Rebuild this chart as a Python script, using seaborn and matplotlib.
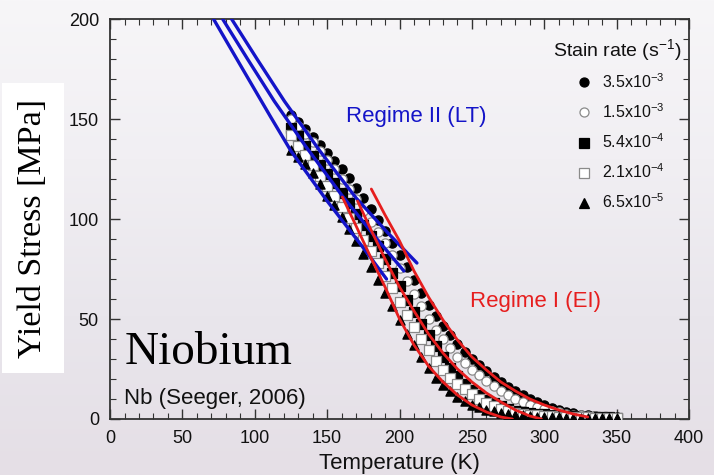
import matplotlib
matplotlib.use("Agg")
import numpy as np
import pandas as pd
import matplotlib.pyplot as plt
import seaborn as sns
from matplotlib.lines import Line2D
from matplotlib.colors import LinearSegmentedColormap
from matplotlib.ticker import MultipleLocator

# Test temperatures (K)
temperature = [125, 130, 135, 140, 145, 150, 155, 160, 165, 170,
               175, 180, 185, 190, 195, 200, 205, 210, 215, 220,
               225, 230, 235, 240, 245, 250, 255, 260, 265, 270,
               275, 280, 285, 290, 295, 300, 305, 310, 315, 320,
               325, 330, 335, 340, 345, 350]

# Yield stress (MPa) for each strain rate
stress_3p5e3 = [152, 148.5, 145, 141, 137, 133, 129, 125, 120.5, 115.5,
                110.5, 105, 99.5, 94, 88, 82, 76, 69.5, 63, 57,
                51.5, 46.5, 42, 37.5, 33.5, 30, 27, 24, 21, 18.5,
                16, 13.8, 11.8, 10, 8.3, 7, 5.7, 4.6, 3.6, 2.8,
                2.2, 1.8, 1.5, 1.2, 1.0, 0.8]
stress_1p5e3 = [150, 146.5, 142.5, 138.5, 134, 129.5, 125, 120, 115, 110,
                104, 98.5, 93.5, 88, 82, 75.5, 69, 62.5, 56.5, 50,
                44.5, 40, 35.5, 31, 28, 24.5, 21.8, 19.2, 16.5, 14,
                11.8, 10, 8.4, 7, 6, 5, 4.1, 3.3, 2.7, 2.2,
                1.8, 1.5, 1.3, 1.1, 0.9, 0.7]
stress_5p4e4 = [145.5, 141.5, 136.5, 131.5, 127, 122.5, 118, 113, 108, 102.5,
                97, 91.5, 86.5, 80, 73, 66.5, 59.5, 53.5, 47.5, 42,
                36.5, 31, 25.5, 21.5, 17.5, 14.5, 11.8, 9.7, 8, 6.4,
                5.2, 4.2, 3.5, 3.0, 2.6, 2.3, 2.0, 1.8, 1.6, 1.4,
                1.2, 1.1, 1.0, 0.9, 0.8, 0.7]
stress_2p1e4 = [142, 136.5, 132, 127, 121.5, 116.5, 111.5, 106, 100.5, 95.5,
                89.5, 84, 78, 71.5, 65.5, 58.5, 52, 46, 40, 34.5,
                29, 24.5, 20.5, 17.5, 14.8, 12.3, 10, 8, 6.5, 5,
                3.8, 3.0, 2.5, 2.1, 1.8, 1.6, 1.4, 1.2, 1.1, 1.0,
                0.9, 0.8, 0.7, 0.6, 0.5, 0.5]
stress_6p5e5 = [134.5, 131, 127.5, 123, 117.5, 111.5, 107, 101, 95, 89,
                82.5, 76, 69.5, 63, 56.5, 49.5, 42.5, 37, 31, 25.5,
                20.5, 17, 14, 11.2, 9, 7, 5.8, 4.6, 3.8, 3.2,
                2.7, 2.2, 1.8, 1.5, 1.2, 1.0, 0.9, 0.8, 0.7, 0.6,
                0.5, 0.5, 0.4, 0.4, 0.3, 0.3]

rate_labels = ["3.5x10$^{-3}$", "1.5x10$^{-3}$", "5.4x10$^{-4}$",
               "2.1x10$^{-4}$", "6.5x10$^{-5}$"]

# Regime II (low temperature) model curves
regime2_T = [[71.5, 90, 111, 125, 150, 174, 191],
             [77.8, 95, 113.4, 135, 160, 185, 203],
             [84, 102, 120.4, 145, 170, 192, 212]]
regime2_S = [[200, 177, 151, 134, 109, 86.5, 70],
             [200, 180, 159, 136.5, 112, 89.5, 74],
             [200, 179.5, 159, 134, 110.5, 93, 78]]

# Regime I (elastic interaction) model curves
regime1_T = [[160.5, 170, 180, 190, 200, 210, 220, 230, 240, 250, 260, 270, 278],
             [171, 180, 190, 200, 210, 220, 230, 240, 250, 260, 270, 280, 290, 298],
             [180.5, 190, 200, 210, 220, 230, 240, 250, 260, 270, 280, 290, 300, 310, 320, 330]]
regime1_S = [[111, 96.5, 81, 66, 50, 37, 26.5, 18.5, 12, 7, 3.5, 1, 0],
             [109, 95, 80, 66, 54, 42.5, 33, 25, 18.5, 13, 8.5, 4.5, 1.5, 0],
             [115, 102, 89, 74, 61, 49.5, 39.5, 31, 24.5, 18.5, 14, 10, 7, 4.5, 2.5, 1]]

series = [stress_3p5e3, stress_1p5e3, stress_5p4e4, stress_2p1e4, stress_6p5e5]
markers = ["o", "o", "s", "s", "^"]
faces = ["black", "white", "black", "white", "black"]
edges = ["black", "#8a8a8a", "black", "#8a8a8a", "black"]

sns.set_theme(style="ticks")
plt.rcParams.update({
    "font.family": ["Liberation Sans", "DejaVu Sans"],
    "mathtext.fontset": "custom",
    "mathtext.rm": "Liberation Sans",
    "mathtext.it": "Liberation Sans:italic",
    "mathtext.bf": "Liberation Sans:bold",
})

fig = plt.figure(figsize=(7.14, 4.75), dpi=100)

# soft lavender backdrop
bg = fig.add_axes([0, 0, 1, 1], zorder=-10)
grad = np.linspace(0, 1, 256).reshape(-1, 1)
cmap = LinearSegmentedColormap.from_list(
    "backdrop", ["#f7f6f8", "#f1eff3", "#e9e6ec", "#e5dfe6"])
bg.imshow(grad, aspect="auto", cmap=cmap, extent=[0, 1, 0, 1], origin="upper")
bg.set_axis_off()

ax = fig.add_axes([0.1541, 0.1179, 0.811, 0.842])
ax.patch.set_alpha(0)

for vals, m, fc, ec in zip(series, markers, faces, edges):
    sns.scatterplot(x=temperature, y=vals, marker=m, s=44, color=fc,
                    edgecolor=ec, linewidth=0.9, ax=ax, zorder=3, legend=False)

for tx, sy in zip(regime2_T, regime2_S):
    sns.lineplot(x=tx, y=sy, sort=False, estimator=None, color="#1414c8",
                 linewidth=2.4, ax=ax, zorder=4)
for tx, sy in zip(regime1_T, regime1_S):
    sns.lineplot(x=tx, y=sy, sort=False, estimator=None, color="#e61e1e",
                 linewidth=2.0, ax=ax, zorder=4)

ax.set_xlim(0, 400)
ax.set_ylim(0, 200)
ax.xaxis.set_major_locator(MultipleLocator(50))
ax.xaxis.set_minor_locator(MultipleLocator(10))
ax.yaxis.set_major_locator(MultipleLocator(50))
ax.yaxis.set_minor_locator(MultipleLocator(10))
ax.tick_params(which="both", direction="in", top=True, right=True,
               colors="#333333", labelcolor="#111111")
ax.tick_params(which="major", length=7, width=1.0, labelsize=13, pad=8)
ax.tick_params(which="minor", length=4, width=0.8)
for sp in ax.spines.values():
    sp.set_color("#333333")
    sp.set_linewidth(1.3)

ax.set_xlabel("Temperature (K)", fontsize=16, color="#111111", labelpad=4)
ax.set_ylabel("")

ax.text(163, 151.5, "Regime II (LT)", color="#1414c8", fontsize=16,
        va="center", ha="left")
ax.text(249, 59, "Regime I (EI)", color="#e61e1e", fontsize=16,
        va="center", ha="left")
ax.text(10, 33, "Niobium", family="Liberation Serif", fontsize=34,
        color="black", va="center", ha="left")
ax.text(9.5, 10.5, "Nb (Seeger, 2006)", fontsize=16, color="#111111",
        va="center", ha="left")

fig.text(33 / 714, 1 - 228 / 475, "Yield Stress [MPa]", rotation=90,
         family="Liberation Serif", fontsize=24.5, ha="center", va="center",
         color="black",
         bbox=dict(boxstyle="square,pad=0.45", facecolor="white", edgecolor="none"))

handles = [Line2D([], [], marker=m, linestyle="none", markersize=6.5,
                  markerfacecolor=fc, markeredgecolor=ec, markeredgewidth=0.9)
           for m, fc, ec in zip(markers, faces, edges)]
fig.text(553 / 714, 1 - 50 / 475, "Stain rate (s$^{-1}$)", fontsize=14,
         ha="left", va="center", color="#111111")
leg = fig.legend(handles, rate_labels, loc="upper left",
                 bbox_to_anchor=(576 / 714, 1 - 72 / 475), frameon=False,
                 fontsize=11.5, labelspacing=0.72, handlelength=1.0,
                 handletextpad=0.6, borderpad=0, borderaxespad=0)
for t in leg.get_texts():
    t.set_color("#111111")

fig.savefig("out.png", dpi=100)
